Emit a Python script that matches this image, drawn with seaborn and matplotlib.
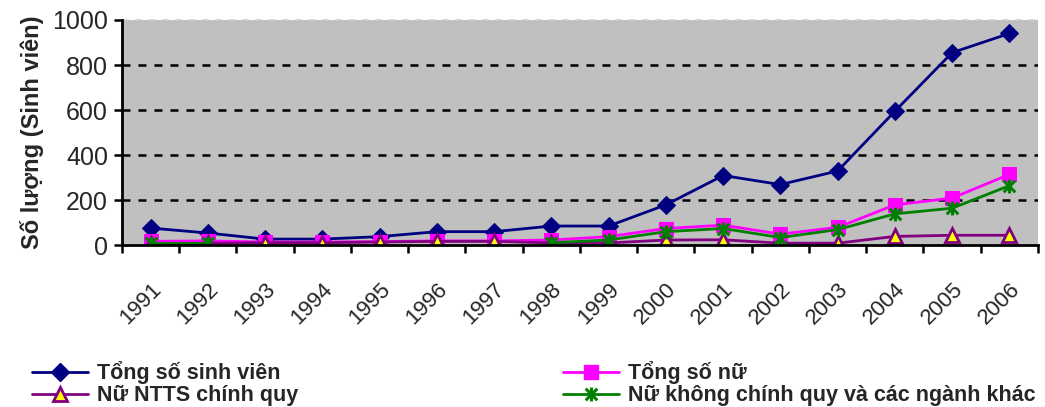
import numpy as np
import pandas as pd
import matplotlib
matplotlib.use("Agg")
import matplotlib.pyplot as plt
from matplotlib.path import Path
from matplotlib.lines import Line2D
import seaborn as sns

# Số liệu theo năm (None = không có số liệu)
years = ["1991", "1992", "1993", "1994", "1995", "1996", "1997", "1998",
         "1999", "2000", "2001", "2002", "2003", "2004", "2005", "2006"]
tong_sinh_vien = [77, 55, 28, 28, 39, 61, 61, 86, 86, 180, 310, 270, 330, 595, 855, 940]
tong_nu = [18, 20, 15, 15, 17, 20, 20, 24, 39, 75, 90, 50, 80, 180, 210, 315]
nu_ntts_chinh_quy = [5, 10, 12, 12, 15, 18, 18, 11, 11, 24, 25, 10, 10, 40, 45, 45]
nu_khong_chinh_quy = [10, 10, None, None, None, None, None, 12, 24, 61, 75, 35, 70,
                      140, 165, 265]
y_ticks = [0, 200, 400, 600, 800, 1000]

labels = ["Tổng số sinh viên", "Tổng số nữ", "Nữ NTTS chính quy",
          "Nữ không chính quy và các ngành khác"]

sns.set_theme(style="ticks")
plt.rcParams["font.family"] = ["Liberation Sans", "DejaVu Sans"]

# Excel-style star marker: an X crossed by a vertical stroke
star = Path([(-1, -1), (1, 1), (-1, 1), (1, -1), (0, -1.2), (0, 1.2)],
            [Path.MOVETO, Path.LINETO, Path.MOVETO, Path.LINETO,
             Path.MOVETO, Path.LINETO])

styles = {
    labels[0]: dict(color="#000080", marker="D", markersize=9.5,
                    markerfacecolor="#000080", markeredgecolor="#000080", lw=2.0),
    labels[1]: dict(color="#FF00FF", marker="s", markersize=10.5,
                    markerfacecolor="#FF00FF", markeredgecolor="#FF00FF", lw=2.0),
    labels[2]: dict(color="#800080", marker="^", markersize=10.5,
                    markerfacecolor="#FFFF00", markeredgecolor="#800080",
                    markeredgewidth=2.0, lw=2.0),
    labels[3]: dict(color="#008000", marker=star, markersize=10,
                    markerfacecolor="none", markeredgecolor="#008000",
                    markeredgewidth=2.2, lw=2.0),
}

series = [tong_sinh_vien, tong_nu, nu_ntts_chinh_quy, nu_khong_chinh_quy]
df = pd.DataFrame({"Năm": years * 4,
                   "Số lượng": pd.to_numeric(pd.Series(sum(series, [])), errors="coerce"),
                   "Nhóm": sum([[lab] * len(years) for lab in labels], [])})
df["Vị trí"] = list(range(len(years))) * 4

fig = plt.figure(figsize=(10.45, 4.07), dpi=100)
ax = fig.add_axes([0.1167, 0.397, 0.8766, 0.554])
ax.set_facecolor("#C0C0C0")

for lab in labels:
    sub = df[df["Nhóm"] == lab]
    # missing years break the line into separate runs
    run_id = sub["Số lượng"].isna().cumsum()
    for _, run in sub[sub["Số lượng"].notna()].groupby(run_id[sub["Số lượng"].notna()]):
        sns.lineplot(data=run, x="Vị trí", y="Số lượng", ax=ax, sort=False,
                     legend=False, **styles[lab])

ax.set_xlim(-0.5, len(years) - 0.5)
ax.set_ylim(0, 1000)
ax.set_yticks(y_ticks)
ax.set_yticklabels([str(v) for v in y_ticks], fontsize=18)

# dashed horizontal gridlines
for v in y_ticks[1:-1]:
    ax.axhline(v, color="black", lw=1.8, ls=(0, (3.2, 3.2)), zorder=0.5)
ax.axhline(1000, color="#CFCFCF", lw=1.2, ls=(0, (4, 4)), zorder=0.5, clip_on=False)

# category tick marks between years
ax.set_xticks(np.arange(len(years)))
ax.set_xticklabels(years, rotation=45, ha="right", va="top",
                   rotation_mode="anchor", fontsize=16)
ax.tick_params(axis="x", which="major", length=0, pad=24)
ax.set_xticks(np.arange(-0.5, len(years)), minor=True)
ax.tick_params(axis="x", which="minor", length=6, width=1.8, color="black",
               direction="out")
ax.tick_params(axis="y", length=6, width=1.8, color="black", direction="out", pad=4)

for side in ("top", "right"):
    ax.spines[side].set_visible(False)
for side in ("left", "bottom"):
    ax.spines[side].set_color("black")
    ax.spines[side].set_linewidth(2.0)

ax.set_xlabel("")
ax.set_ylabel("Số lượng (Sinh viên)", fontsize=17, fontweight="bold", labelpad=6)

handles = [Line2D([0], [0], **styles[lab]) for lab in labels]
leg_kw = dict(frameon=False, handlelength=2.6, handletextpad=0.4,
              labelspacing=0.06, borderpad=0, borderaxespad=0,
              prop=dict(weight="bold", size=15.5))
fig.legend([handles[0], handles[2]], [labels[0], labels[2]],
           loc="center left", bbox_to_anchor=(0.031, 0.057), **leg_kw)
fig.legend([handles[1], handles[3]], [labels[1], labels[3]],
           loc="center left", bbox_to_anchor=(0.539, 0.057), **leg_kw)

fig.savefig("out.png", dpi=100)
